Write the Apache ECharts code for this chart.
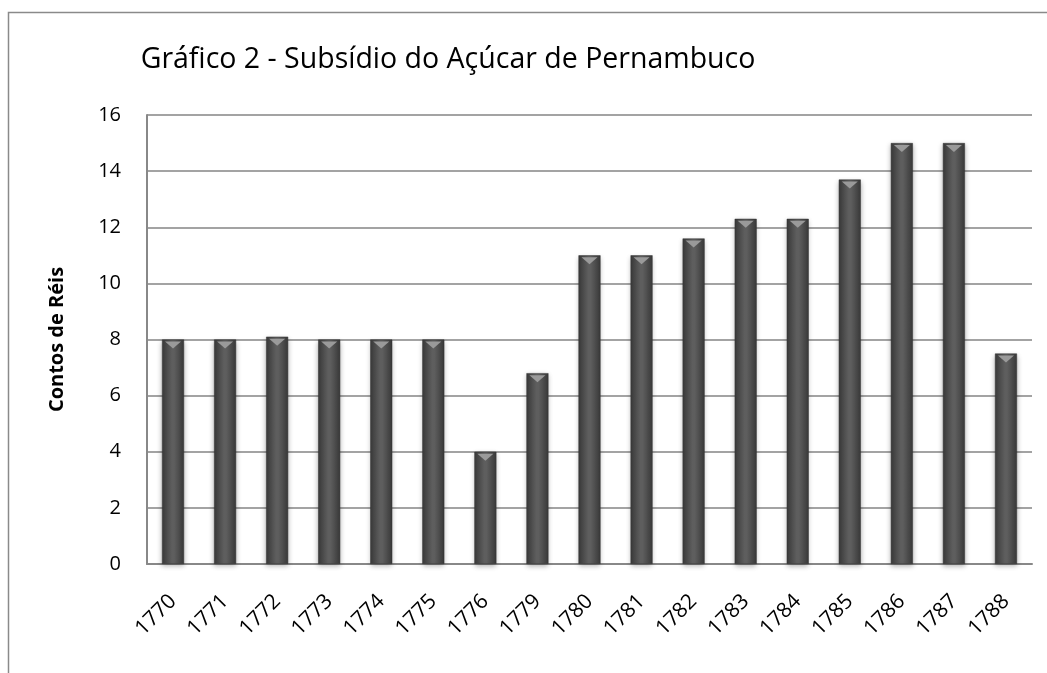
<!DOCTYPE html>
<html>
<head>
<meta charset="utf-8">
<script src="https://cdn.jsdelivr.net/npm/echarts@6/dist/echarts.min.js"></script>
<style>
  html, body { margin: 0; padding: 0; background: #fff; }
  #main { width: 1047px; height: 673px; }
</style>
</head>
<body>
<div id="main"></div>
<script>
// Years (categories) and subsidy values in contos de réis
const years = ['1770', '1771', '1772', '1773', '1774', '1775', '1776', '1779', '1780',
  '1781', '1782', '1783', '1784', '1785', '1786', '1787', '1788'];
const subsidio = [8, 8, 8.1, 8, 8, 8, 4, 6.8, 11, 11, 11.6, 12.3, 12.3, 13.7, 15, 15, 7.5];

const titleText = 'Gráfico 2 - Subsídio do Açúcar de Pernambuco';
const yName = 'Contos de Réis';

const font = '"Open Sans", sans-serif';

// bar body: dark gray with a lighter middle, like the 3D cylinder look
const barFill = new echarts.graphic.LinearGradient(0, 0, 1, 0, [
  { offset: 0, color: '#3a3a3a' },
  { offset: 0.45, color: '#5e5e5e' },
  { offset: 0.55, color: '#5e5e5e' },
  { offset: 1, color: '#3a3a3a' }
]);

const myChart = echarts.init(document.getElementById('main'));

const option = {
  backgroundColor: '#fff',
  animation: false,
  graphic: [{
    type: 'rect',
    shape: { x: 8.5, y: 12.5, width: 1050, height: 680 },
    style: { fill: 'none', stroke: '#8a8a8a', lineWidth: 1.5 },
    silent: true
  }],
  title: {
    text: titleText,
    left: 443,
    top: 40,
    textAlign: 'center',
    textStyle: { fontFamily: font, fontSize: 28.5, fontWeight: 'normal', color: '#000' }
  },
  grid: { left: 147, right: 15, top: 115, bottom: 109 },
  xAxis: {
    type: 'category',
    data: years,
    axisLine: { lineStyle: { color: '#888', width: 2 } },
    axisTick: { show: false },
    axisLabel: {
      rotate: 45,
      margin: 34,
      fontFamily: font,
      fontSize: 21,
      color: '#000'
    }
  },
  yAxis: {
    type: 'value',
    min: 0,
    max: 16,
    interval: 2,
    name: yName,
    nameLocation: 'middle',
    nameGap: 80,
    nameTextStyle: { fontFamily: font, fontSize: 20, fontWeight: 'bold', color: '#000' },
    axisLine: { show: true, lineStyle: { color: '#888', width: 2 } },
    axisTick: { show: false },
    axisLabel: { margin: 26, fontFamily: font, fontSize: 20, color: '#000' },
    splitLine: { lineStyle: { color: '#858585', width: 1.5 } }
  },
  series: [{
    type: 'bar',
    data: subsidio,
    barWidth: 22,
    itemStyle: {
      color: barFill,
      borderColor: '#333',
      borderWidth: 0.5,
      shadowColor: 'rgba(0,0,0,0.3)',
      shadowBlur: 5,
      shadowOffsetY: 2
    }
  }, {
    // lighter cap at the top of each bar
    type: 'pictorialBar',
    data: subsidio,
    symbol: 'triangle',
    symbolRotate: 180,
    symbolSize: [16, 7],
    symbolPosition: 'end',
    symbolOffset: [0, 2],
    z: 3,
    itemStyle: { color: '#9a9a9a' },
    silent: true
  }]
};

myChart.setOption(option);
</script>
</body>
</html>
